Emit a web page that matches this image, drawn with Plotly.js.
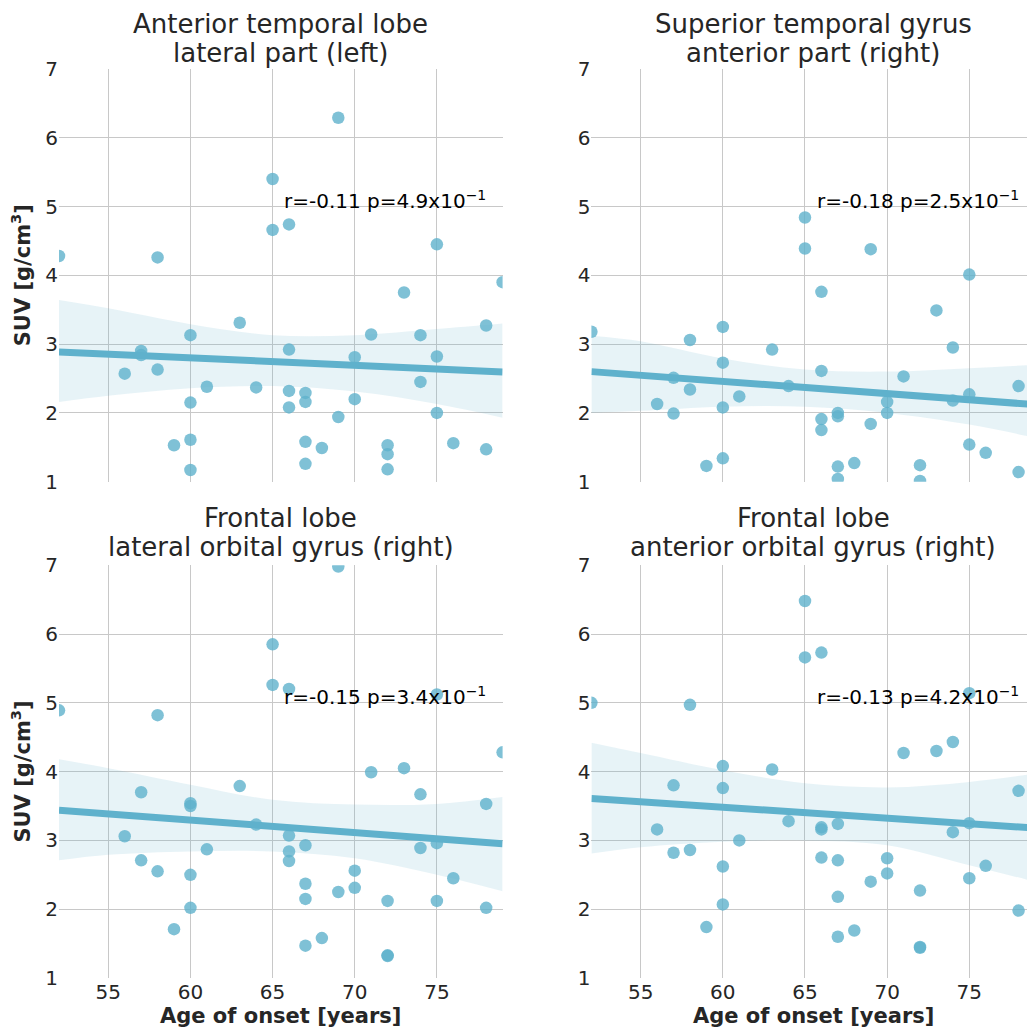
<!DOCTYPE html>
<html>
<head>
<meta charset="utf-8">
<script src="https://cdn.plot.ly/plotly-3.0.1.min.js"></script>
<style>html,body{margin:0;padding:0;background:#fff;}#chart{width:1027px;height:1030px;}</style>
</head>
<body>
<div id="chart"></div>
<script>
// ---------- DATA ----------
const panelTitles = [
  ["Anterior temporal lobe", "lateral part (left)"],
  ["Superior temporal gyrus", "anterior part (right)"],
  ["Frontal lobe", "lateral orbital gyrus (right)"],
  ["Frontal lobe", "anterior orbital gyrus (right)"]
];
const statLabels = [
  "r=-0.11 p=4.9x10<sup>−1</sup>",
  "r=-0.18 p=2.5x10<sup>−1</sup>",
  "r=-0.15 p=3.4x10<sup>−1</sup>",
  "r=-0.13 p=4.2x10<sup>−1</sup>"
];
const xTickVals = [55, 60, 65, 70, 75];
const yTickVals = [1, 2, 3, 4, 5, 6, 7];
const xLabel = "Age of onset [years]";
const yLabel = "SUV [g/cm<sup>3</sup>]";

// panel 1: anterior temporal lobe, lateral part (left)
const age1 = [52,56,57,57,58,58,59,60,60,60,60,61,63,64,65,65,66,66,66,66,67,67,67,67,68,69,69,70,70,71,72,72,72,73,74,74,75,75,75,76,78,78,79];
const suv1 = [4.28,2.57,2.90,2.84,4.26,2.63,1.53,3.13,2.15,1.61,1.17,2.38,3.31,2.37,5.40,4.66,4.74,2.92,2.32,2.08,2.29,2.16,1.58,1.26,1.49,6.29,1.94,2.81,2.20,3.14,1.53,1.40,1.18,3.75,3.13,2.45,4.45,2.82,2.00,1.56,3.27,1.47,3.90];
// panel 2: superior temporal gyrus, anterior part (right)
const age2 = [52,56,57,57,58,58,59,60,60,60,60,61,63,64,65,65,66,66,66,66,67,67,67,67,68,69,69,70,70,71,72,72,73,74,74,75,75,75,76,78,78];
const suv2 = [3.18,2.13,2.51,1.99,3.06,2.34,1.23,3.25,2.73,2.08,1.34,2.24,2.92,2.39,4.84,4.39,3.76,2.61,1.91,1.75,2.00,1.95,1.22,1.04,1.27,4.38,1.84,2.16,2.00,2.53,1.24,1.01,3.49,2.95,2.18,4.01,2.27,1.54,1.42,2.39,1.14];
// panel 3: frontal lobe, lateral orbital gyrus (right)
const age3 = [52,56,57,57,58,58,59,60,60,60,60,61,63,64,65,65,66,66,66,66,67,67,67,67,68,69,69,70,70,71,72,72,72,73,74,74,75,75,75,76,78,78,79];
const suv3 = [4.89,3.06,3.70,2.71,4.82,2.55,1.71,3.54,3.50,2.50,2.02,2.87,3.79,3.23,5.85,5.26,5.20,3.07,2.84,2.70,2.93,2.37,2.15,1.47,1.58,6.98,2.25,2.56,2.31,3.99,2.12,1.33,1.32,4.05,3.67,2.89,5.12,2.96,2.12,2.45,3.53,2.02,4.28];
// panel 4: frontal lobe, anterior orbital gyrus (right)
const age4 = [52,56,57,57,58,58,59,60,60,60,60,61,63,64,65,65,66,66,66,66,67,67,67,67,68,69,70,70,71,72,72,72,73,74,74,75,75,75,76,78,78];
const suv4 = [5.00,3.16,3.80,2.82,4.97,2.86,1.74,4.08,3.76,2.62,2.07,3.00,4.03,3.28,6.48,5.66,5.73,3.19,3.16,2.75,3.24,2.71,2.18,1.60,1.69,2.40,2.74,2.52,4.27,2.27,1.44,1.45,4.30,4.43,3.12,5.14,3.25,2.45,2.63,3.72,1.98];

// regression fits and confidence bands
const fitAge = [52, 79];
const fit1 = [2.885, 2.595];
const fit2 = [2.60, 2.12];
const fit3 = [3.44, 2.95];
const fit4 = [3.61, 3.18];
const bandAge = [52, 55, 60, 65, 70, 75, 79];
const bandHi1 = [3.64, 3.52, 3.29, 3.13, 3.13, 3.22, 3.30];
const bandLo1 = [2.16, 2.25, 2.36, 2.39, 2.31, 2.13, 1.93];
const bandHi2 = [3.12, 3.04, 2.79, 2.63, 2.60, 2.65, 2.70];
const bandLo2 = [2.00, 2.03, 2.09, 2.09, 2.00, 1.83, 1.64];
const bandHi3 = [4.18, 4.05, 3.81, 3.59, 3.52, 3.53, 3.63];
const bandLo3 = [2.71, 2.79, 2.84, 2.84, 2.74, 2.50, 2.26];
const bandHi4 = [4.42, 4.27, 4.02, 3.83, 3.77, 3.85, 3.97];
const bandLo4 = [2.81, 2.90, 2.98, 3.00, 2.93, 2.64, 2.40];

// ---------- STYLE ----------
const W = 1027, H = 1030;
const FONT = "DejaVu Sans";
const TXT = "#262626";
const COL = "#5fb1cc";
const px = v => v / W;
const py = v => 1 - v / H;

const panels = [
  {age: age1, suv: suv1, fit: fit1, hi: bandHi1, lo: bandLo1},
  {age: age2, suv: suv2, fit: fit2, hi: bandHi2, lo: bandLo2},
  {age: age3, suv: suv3, fit: fit3, hi: bandHi3, lo: bandLo3},
  {age: age4, suv: suv4, fit: fit4, hi: bandHi4, lo: bandLo4}
];

const traces = [];
panels.forEach((p, i) => {
  const xa = i === 0 ? "x" : "x" + (i + 1);
  const ya = i === 0 ? "y" : "y" + (i + 1);
  traces.push({x: bandAge, y: p.lo, xaxis: xa, yaxis: ya, mode: "lines", line: {width: 0, color: "rgba(0,0,0,0)", shape: "spline"}, hoverinfo: "skip", type: "scatter"});
  traces.push({x: bandAge, y: p.hi, xaxis: xa, yaxis: ya, mode: "lines", line: {width: 0, color: "rgba(0,0,0,0)", shape: "spline"}, fill: "tonexty", fillcolor: "rgba(95,177,204,0.15)", hoverinfo: "skip", type: "scatter"});
  traces.push({x: p.age, y: p.suv, xaxis: xa, yaxis: ya, mode: "markers", marker: {size: 12.5, color: COL, opacity: 0.8}, type: "scatter"});
  traces.push({x: fitAge, y: p.fit, xaxis: xa, yaxis: ya, mode: "lines", line: {width: 7, color: COL}, type: "scatter"});
});

// domains (pixel geometry)
const leftX = [px(59), px(502.6)];
const rightX = [px(591.4), 1];
const topY = [py(481.7), py(68.9)];
const botY = [py(978), py(565.2)];

function xAxis(domain, range, anchor, showLabels) {
  return {domain: domain, range: range, anchor: anchor, tickvals: xTickVals, showticklabels: showLabels,
    showgrid: true, gridcolor: "#c8c8c8", gridwidth: 1, zeroline: false, showline: false, ticks: "",
    tickfont: {family: FONT, size: 20, color: TXT}, fixedrange: true};
}
function yAxis(domain, anchor) {
  return {domain: domain, range: [1, 7], anchor: anchor, tickvals: yTickVals,
    showgrid: true, gridcolor: "#c8c8c8", gridwidth: 1, zeroline: false, showline: false, ticks: "",
    tickfont: {family: FONT, size: 20, color: TXT}, fixedrange: true};
}
const rightRange = [52, 52 + (W - 591.4) / 16.43];

const annotations = [];
const titleCenters = [[280.8, 24, 53], [813.2, 24, 53], [280.8, 518, 547], [813.2, 518, 547]];
panelTitles.forEach((t, i) => {
  const c = titleCenters[i];
  annotations.push({text: t[0], xref: "paper", yref: "paper", x: px(c[0]), y: py(c[1]), xanchor: "center", yanchor: "middle", showarrow: false, font: {family: FONT, size: 26, color: TXT}});
  annotations.push({text: t[1], xref: "paper", yref: "paper", x: px(c[0]), y: py(c[2]), xanchor: "center", yanchor: "middle", showarrow: false, font: {family: FONT, size: 26, color: TXT}});
});
statLabels.forEach((s, i) => {
  const xa = i === 0 ? "x" : "x" + (i + 1);
  const ya = i === 0 ? "y" : "y" + (i + 1);
  annotations.push({text: s, xref: xa, yref: ya, x: 65.58, y: 5.1, xanchor: "left", yanchor: "middle", showarrow: false, font: {family: FONT, size: 20, color: "#000"}});
});
[280.8, 813.2].forEach(cx => {
  annotations.push({text: "<b>" + xLabel + "</b>", xref: "paper", yref: "paper", x: px(cx), y: py(1016), xanchor: "center", yanchor: "middle", showarrow: false, font: {family: FONT, size: 21, color: TXT}});
});
[275.3, 771.6].forEach(cy => {
  annotations.push({text: "<b>" + yLabel + "</b>", xref: "paper", yref: "paper", x: px(21), y: py(cy), xanchor: "center", yanchor: "middle", textangle: -90, showarrow: false, font: {family: FONT, size: 21, color: TXT}});
});

const layout = {
  width: W, height: H,
  margin: {l: 0, r: 0, t: 0, b: 0, pad: 0},
  paper_bgcolor: "#ffffff", plot_bgcolor: "#ffffff",
  showlegend: false,
  font: {family: FONT, color: TXT},
  xaxis: xAxis(leftX, [52, 79], "y", false),
  yaxis: yAxis(topY, "x"),
  xaxis2: xAxis(rightX, rightRange, "y2", false),
  yaxis2: yAxis(topY, "x2"),
  xaxis3: xAxis(leftX, [52, 79], "y3", true),
  yaxis3: yAxis(botY, "x3"),
  xaxis4: xAxis(rightX, rightRange, "y4", true),
  yaxis4: yAxis(botY, "x4"),
  annotations: annotations
};

Plotly.newPlot("chart", traces, layout, {displayModeBar: false, staticPlot: true});
</script>
</body>
</html>
